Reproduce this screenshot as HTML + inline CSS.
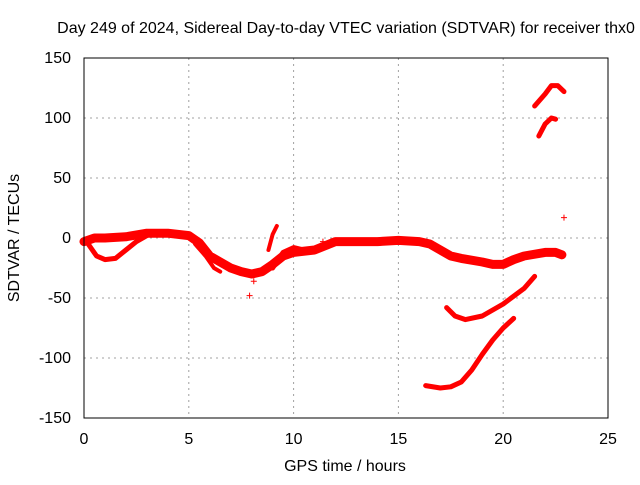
<!DOCTYPE html>
<html><head><meta charset="utf-8"><style>
body{margin:0;background:#fff;}
svg text{font-family:"Liberation Sans",sans-serif;font-size:16px;fill:#000;}
</style></head><body>
<svg id="chart" width="640" height="480">
<text x="346" y="33" text-anchor="middle">Day 249 of 2024, Sidereal Day-to-day VTEC variation (SDTVAR) for receiver thx0</text>
<text x="345" y="471" text-anchor="middle">GPS time / hours</text>
<text transform="translate(19,238) rotate(-90)" text-anchor="middle">SDTVAR / TECUs</text>
<g id="grid"></g><g id="ticks"></g><g id="marks"></g>
<rect x="84" y="58" width="524" height="360" fill="none" stroke="#000" stroke-width="1"/>
</svg>
<script>
const xTicks=[0,5,10,15,20,25];
const yTicks=[150,100,50,0,-50,-100,-150];
const trackMainT=[0,0.5,1,2,3,4,5,5.5,6,6.5,7,7.5,8,8.5,9,9.5,10,11,12,13,14,15,16,16.5,17,17.5,18,19,19.5,20,20.5,21,22,22.5,22.8];
const trackMainV=[-3,0,0,1,4,4,2,-4,-15,-20,-25,-28,-30,-28,-22,-15,-12,-10,-3,-3,-3,-2,-3,-5,-10,-15,-17,-20,-22,-22,-18,-15,-12,-12,-14];
const trackDipT=[0.2,0.6,1,1.5,2,2.5,3];
const trackDipV=[-5,-15,-18,-17,-10,-3,2];
const trackFallT=[5.3,5.8,6.2,6.5];
const trackFallV=[-5,-15,-25,-28];
const trackSpikeT=[8.8,9.0,9.2];
const trackSpikeV=[-10,3,10];
const trackBranchT=[9,9.5,10,10.5];
const trackBranchV=[-25,-12,-8,-10];
const trackMidT=[17.3,17.7,18.2,19,20,21,21.5];
const trackMidV=[-58,-65,-68,-65,-55,-42,-32];
const trackLowT=[16.3,17,17.5,18,18.5,19,19.5,20,20.5];
const trackLowV=[-123,-125,-124,-120,-110,-97,-85,-75,-67];
const trackHighT=[21.5,22,22.3,22.6,22.9];
const trackHighV=[110,120,127,127,122];
const trackHigh2T=[21.7,22,22.3,22.5];
const trackHigh2V=[85,95,100,99];
const loneT=[22.9,7.9,8.1,11.4];
const loneV=[17,-48,-36,-3];
const X=t=>84+t*524/25, Y=v=>238-v*1.2;
const ns="http://www.w3.org/2000/svg";
const grid=document.getElementById('grid'),ticks=document.getElementById('ticks'),marks=document.getElementById('marks');
function mk(tag,attrs,parent){const e=document.createElementNS(ns,tag);for(const k in attrs)e.setAttribute(k,attrs[k]);parent.appendChild(e);return e;}
xTicks.forEach(t=>{
 if(t>0&&t<25){const g=mk('line',{x1:X(t),x2:X(t),y1:58,y2:418,stroke:'#a0a0a0','stroke-dasharray':'2,4'},grid);
 
 }
 const l=mk('text',{x:X(t),y:444,'text-anchor':'middle'},ticks);l.textContent=t;
 
 
});
yTicks.forEach(v=>{
 if(v<150&&v>-150){const g=mk('line',{x1:84,x2:608,y1:Y(v),y2:Y(v),stroke:'#a0a0a0','stroke-dasharray':'2,4'},grid);
 
 }
 const l=mk('text',{x:71,y:Y(v)+5,'text-anchor':'end'},ticks);l.textContent=v;
 
 
});
function track(T,V,w,name){
 const p=mk('polyline',{points:T.map((t,i)=>X(t)+','+Y(V[i])).join(' '),fill:'none',stroke:'#f00','stroke-width':w,'stroke-linejoin':'round','stroke-linecap':'round'},marks);
 
 
}
function pts(T,V){T.forEach((t,i)=>{const x=X(t),y=Y(V[i]);
 const p=mk('path',{d:`M${x-3},${y}h6M${x},${y-3}v6`,stroke:'#f00','stroke-width':1},marks);
 
 });}
track(trackMainT,trackMainV,9,'series-main-band');
track(trackDipT,trackDipV,5,'series-dip-track');
track(trackFallT,trackFallV,4,'series-fall-track');
track(trackSpikeT,trackSpikeV,4,'series-spike-track');
track(trackBranchT,trackBranchV,5,'series-branch-track');
track(trackMidT,trackMidV,5,'series-mid-track');
track(trackLowT,trackLowV,5,'series-low-track');
track(trackHighT,trackHighV,5,'series-high-track');
track(trackHigh2T,trackHigh2V,5,'series-high2-track');
pts(loneT,loneV);
</script>
</body></html>
